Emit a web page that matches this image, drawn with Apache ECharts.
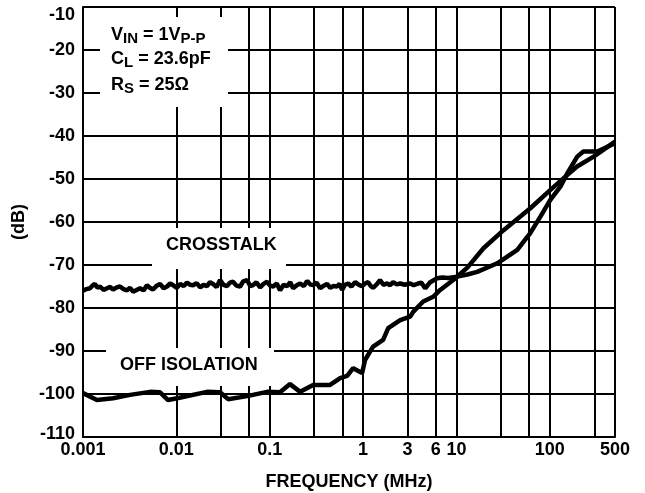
<!DOCTYPE html>
<html>
<head>
<meta charset="utf-8">
<script src="https://cdn.jsdelivr.net/npm/echarts@6/dist/echarts.min.js"></script>
<style>
  html, body { margin: 0; padding: 0; background: #fff; }
  #chart { width: 645px; height: 493px; }
</style>
</head>
<body>
<div id="chart"></div>
<script>
// crosstalk
const crossFreq = [0.001, 0.00109, 0.00119, 0.00126, 0.00134, 0.00143, 0.00152, 0.00166, 0.00181, 0.00195,
  0.0021, 0.0023, 0.00249, 0.00272, 0.00296, 0.00319, 0.00344, 0.00375, 0.00408, 0.00445,
  0.00485, 0.0052, 0.00562, 0.0061, 0.00669, 0.0073, 0.00794, 0.0086, 0.00922, 0.0101,
  0.011, 0.012, 0.013, 0.014, 0.0151, 0.0165, 0.018, 0.0196, 0.0213, 0.0229,
  0.0247, 0.027, 0.0294, 0.032, 0.0349, 0.0375, 0.0405, 0.044, 0.0482, 0.052,
  0.0572, 0.062, 0.0664, 0.072, 0.0789, 0.086, 0.0938, 0.101, 0.109, 0.119,
  0.129, 0.141, 0.154, 0.166, 0.178, 0.195, 0.212, 0.232, 0.252, 0.271,
  0.292, 0.318, 0.347, 0.38, 0.412, 0.445, 0.478, 0.527, 0.56, 0.597,
  0.64, 0.692, 0.75, 0.823, 0.9, 0.978, 1.05, 1.135, 1.2, 1.28,
  1.4, 1.52, 1.65, 1.81, 1.95, 2.1, 2.3, 2.5, 2.8, 3.2,
  3.5, 3.9, 4.2, 4.63, 5.24, 6.22, 7.05, 8.17, 10.2, 13.1,
  16.7, 27.4, 44.9, 61.8, 79.1, 101, 130, 154, 197, 229,
  323, 500]
const crossDb = [-76.0, -75.6, -75.4, -74.8, -74.4, -75.3, -75.0, -75.8, -75.4, -75.1,
  -75.7, -75.2, -75.0, -75.6, -75.9, -75.3, -76.2, -75.8, -75.4, -75.9,
  -74.7, -75.3, -75.7, -74.9, -74.4, -75.4, -75.0, -74.3, -74.7, -75.3,
  -74.4, -74.9, -74.1, -74.6, -74.7, -74.2, -75.2, -74.6, -74.9, -74.0,
  -74.4, -75.1, -73.5, -74.6, -74.9, -74.1, -73.9, -74.8, -75.0, -73.8,
  -73.5, -74.9, -74.7, -74.0, -75.2, -74.4, -73.9, -74.8, -75.0, -74.3,
  -75.9, -74.6, -74.9, -74.0, -75.4, -74.7, -74.3, -74.9, -73.7, -74.5,
  -74.7, -74.1, -75.4, -74.8, -74.4, -75.3, -74.9, -75.0, -74.4, -75.8,
  -74.6, -74.3, -75.0, -74.0, -74.6, -74.9, -74.3, -74.0, -74.8, -75.3,
  -74.5, -73.5, -74.6, -74.3, -74.7, -74.0, -74.5, -74.3, -74.6, -74.3,
  -74.7, -74.3, -74.1, -75.4, -74.0, -73.1, -72.9, -73.0, -72.7, -72.2,
  -71.6, -69.6, -66.5, -62.6, -58.8, -54.9, -51.8, -48.7, -44.8, -43.6,
  -43.6, -41.7]

// off isolation
const isoFreq = [0.001, 0.00141, 0.0021, 0.00319, 0.00522, 0.00669, 0.00815, 0.0102, 0.0213, 0.0294,
  0.0358, 0.0572, 0.0937, 0.129, 0.165, 0.212, 0.292, 0.444, 0.568, 0.676,
  0.783, 0.977, 1.05, 1.28, 1.64, 1.86, 2.5, 3.2, 3.44, 4.41,
  5.64, 6.7, 9.25, 13.1, 19.5, 32, 62, 101, 141, 196, 295, 500]
const isoDb = [-99.8, -101.4, -101.0, -100.2, -99.5, -99.6, -101.4, -101.0, -99.5, -99.6,
  -101.2, -100.5, -99.5, -99.6, -97.7, -99.5, -97.9, -97.9, -96.3, -95.8,
  -94.0, -95.1, -92.1, -89.0, -87.4, -84.7, -82.8, -82.0, -80.9, -78.5,
  -77.4, -75.8, -73.5, -70.6, -66.1, -61.9, -56.8, -52.6, -49.8, -47.1, -44.8, -41.3]

// extra vertical grid lines (1-3-6 per decade), and the ones that get a label
const xMinorGrid = [0.003, 0.006, 0.03, 0.06, 0.3, 0.6, 3, 6, 30, 60, 300]
const xMinorLabels = [3, 6]

const font = 'Liberation Sans, Arial, sans-serif'

const chart = echarts.init(document.getElementById('chart'))

const minorLines = xMinorGrid.map(function(v) {
  const item = { xAxis: v }
  if (xMinorLabels.indexOf(v) >= 0) {
    item.label = {
      show: true,
      position: 'start',
      distance: 4,
      formatter: String(v),
      color: '#000',
      fontFamily: font,
      fontWeight: 'bold',
      fontSize: 18
    }
  }
  return item
})

chart.setOption({
  animation: false,
  grid: {
    left: 83,
    right: 30,
    top: 7,
    bottom: 56,
    outerBoundsMode: 'none'
  },
  xAxis: {
    type: 'log',
    logBase: 10,
    min: 0.001,
    max: 500,
    interval: 1,
    name: 'FREQUENCY (MHz)',
    nameLocation: 'middle',
    nameGap: 36,
    nameTextStyle: { color: '#000', fontFamily: font, fontWeight: 'bold', fontSize: 18 },
    axisLine: { lineStyle: { color: '#000', width: 2 } },
    axisTick: { show: false },
    axisLabel: {
      color: '#000',
      fontFamily: font,
      fontWeight: 'bold',
      fontSize: 18,
      margin: 4,
      showMinLabel: true,
      showMaxLabel: true,
      formatter: function(v) {
        return String(+(+v).toPrecision(3))
      }
    },
    splitLine: { show: true, lineStyle: { color: '#000', width: 2 } }
  },
  yAxis: {
    type: 'value',
    min: -110,
    max: -10,
    interval: 10,
    name: '(dB)',
    nameLocation: 'middle',
    nameGap: 55,
    nameRotate: 90,
    nameTextStyle: { color: '#000', fontFamily: font, fontWeight: 'bold', fontSize: 18 },
    axisLine: { show: true, lineStyle: { color: '#000', width: 2 } },
    axisTick: { show: false },
    axisLabel: {
      color: '#000',
      fontFamily: font,
      fontWeight: 'bold',
      fontSize: 18,
      margin: 8,
      formatter: function(v) {
        if (v === -10) return '{t|-10}'
        if (v === -110) return '{b|-110}'
        return String(v)
      },
      rich: {
        t: { padding: [16, 0, 0, 0], fontFamily: font, fontWeight: 'bold', fontSize: 18, color: '#000' },
        b: { padding: [0, 0, 6, 0], fontFamily: font, fontWeight: 'bold', fontSize: 18, color: '#000' }
      }
    },
    splitLine: { show: true, lineStyle: { color: '#000', width: 2 } }
  },
  series: [
    {
      name: 'CROSSTALK',
      type: 'line',
      symbol: 'none',
      data: crossFreq.map((f, i) => [f, crossDb[i]]),
      lineStyle: { color: '#000', width: 4.5 },
      z: 3,
      markLine: {
        silent: true,
        symbol: ['none', 'none'],
        lineStyle: { color: '#000', width: 2, type: 'solid' },
        label: { show: false },
        emphasis: { disabled: true },
        data: minorLines
      }
    },
    {
      name: 'OFF ISOLATION',
      type: 'line',
      symbol: 'none',
      data: isoFreq.map((f, i) => [f, isoDb[i]]),
      lineStyle: { color: '#000', width: 4.5 },
      z: 3
    }
  ],
  graphic: [
    // white boxes that hide the grid behind the notes
    { type: 'rect', z: 100, shape: { x: 100, y: 17, width: 128, height: 90 }, style: { fill: '#fff' } },
    { type: 'rect', z: 100, shape: { x: 152, y: 228, width: 134, height: 41 }, style: { fill: '#fff' } },
    { type: 'rect', z: 100, shape: { x: 106, y: 348, width: 168, height: 38 }, style: { fill: '#fff' } },
    {
      type: 'text', z: 101, x: 111, y: 24,
      style: {
        text: 'V{s|IN} = 1V{s|P-P}',
        fontFamily: font, fontWeight: 'bold', fontSize: 18, fill: '#000',
        lineHeight: 22,
        rich: { s: { fontFamily: font, fontWeight: 'bold', fontSize: 15, lineHeight: 10, verticalAlign: 'bottom' } }
      }
    },
    {
      type: 'text', z: 101, x: 111, y: 48,
      style: {
        text: 'C{s|L} = 23.6pF',
        fontFamily: font, fontWeight: 'bold', fontSize: 18, fill: '#000',
        lineHeight: 22,
        rich: { s: { fontFamily: font, fontWeight: 'bold', fontSize: 15, lineHeight: 10, verticalAlign: 'bottom' } }
      }
    },
    {
      type: 'text', z: 101, x: 111, y: 74,
      style: {
        text: 'R{s|S} = 25Ω',
        fontFamily: font, fontWeight: 'bold', fontSize: 18, fill: '#000',
        lineHeight: 22,
        rich: { s: { fontFamily: font, fontWeight: 'bold', fontSize: 15, lineHeight: 10, verticalAlign: 'bottom' } }
      }
    },
    {
      type: 'text', z: 101, x: 166, y: 245,
      style: {
        text: 'CROSSTALK', fontFamily: font, fontWeight: 'bold', fontSize: 18, fill: '#000',
        verticalAlign: 'middle'
      }
    },
    {
      type: 'text', z: 101, x: 120, y: 365,
      style: {
        text: 'OFF ISOLATION', fontFamily: font, fontWeight: 'bold', fontSize: 18, fill: '#000',
        verticalAlign: 'middle'
      }
    }
  ]
})
</script>
</body>
</html>
